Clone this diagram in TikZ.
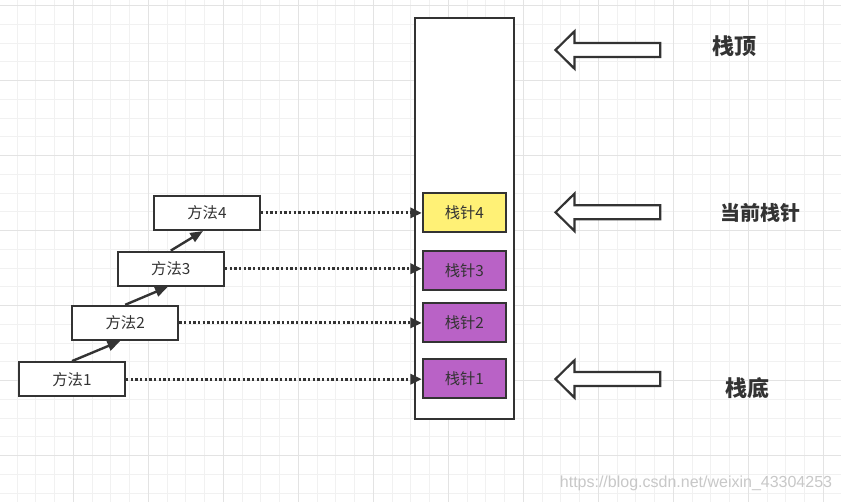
\documentclass[tikz,border=0pt]{standalone}
\usepackage{fontspec}
\setmainfont{Liberation Sans}
\newfontfamily\cjk{Noto Sans CJK SC}
\usetikzlibrary{arrows.meta,calc}
\definecolor{ink}{HTML}{333333}
\definecolor{gridminor}{HTML}{F1F1F1}
\definecolor{gridmajor}{HTML}{E3E3E3}
\definecolor{curfill}{HTML}{FFF176}
\definecolor{stkfill}{HTML}{B962C6}
\definecolor{wm}{HTML}{C8C8C8}
\begin{document}
\begin{tikzpicture}[x=0.75pt,y=-0.75pt,
  box/.style={draw=ink,line width=1.65pt,fill=white,inner sep=0pt,
    font=\cjk\fontsize{11.5pt}{13pt}\selectfont,text=ink},
  methodbox/.style={box,minimum width={106*0.75pt},minimum height={34*0.75pt}},
  framebox/.style={box,minimum width={99*0.75pt},minimum height={401*0.75pt}},
  slotbox/.style={box,minimum width={83*0.75pt},minimum height={39*0.75pt}},
  biglabel/.style={inner sep=0pt,font=\cjk\bfseries\fontsize{16.5pt}{19pt}\selectfont,text=ink},
  curlabel/.style={biglabel,font=\cjk\bfseries\fontsize{15pt}{18pt}\selectfont},
  callarrow/.style={draw=ink,line width=1.8pt,-{Triangle[length=9.5pt,width=7.5pt]}},
  ptrarrow/.style={draw=ink,line width=2.2pt,dash pattern=on 1.7pt off 1.8pt,
    -{Triangle[length=8.5pt,width=7.5pt]}},
  blockarrow/.style={draw=ink,line width=1.65pt,fill=white,line join=miter}
]
\useasboundingbox (0,0) rectangle (841,502);
\fill[white] (0,0) rectangle (841,502);
% grid
\foreach \i in {0,...,44} {
  \draw[gridminor,line width=0.75pt] ({17.05+18.75*\i},0) -- ({17.05+18.75*\i},502);
}
\foreach \j in {0,...,26} {
  \draw[gridminor,line width=0.75pt] (0,{5.7+18.75*\j}) -- (841,{5.7+18.75*\j});
}
\foreach \i in {0,...,11} {
  \draw[gridmajor,line width=0.75pt] ({-1.7+75*\i},0) -- ({-1.7+75*\i},502);
}
\foreach \j in {0,...,6} {
  \draw[gridmajor,line width=0.75pt] (0,{5.7+75*\j}) -- (841,{5.7+75*\j});
}
% stack frame
\node[framebox] (stack) at (464.6,218.5) {};
% slots
\node[slotbox,fill=curfill] (s4) at (464.4,212.5) {栈针4};
\node[slotbox,fill=stkfill] (s3) at (464.4,270.3) {栈针3};
\node[slotbox,fill=stkfill] (s2) at (464.4,322.5) {栈针2};
\node[slotbox,fill=stkfill] (s1) at (464.4,378.7) {栈针1};
% methods
\node[methodbox] (m4) at (207,212.9) {方法4};
\node[methodbox] (m3) at (170.8,268.7) {方法3};
\node[methodbox] (m2) at (125.2,322.9) {方法2};
\node[methodbox] (m1) at (72,379.2) {方法1};
% call arrows
\draw[callarrow] (m1.north) -- ($(m2.south)+(-5,0)$);
\draw[callarrow] (m2.north) -- ($(m3.south)+(-3,0)$);
\draw[callarrow] (m3.north) -- ($(m4.south)+(-4,0)$);
% pointer arrows
\draw[ptrarrow] (m4.east) -- (m4.east -| s4.west);
\draw[ptrarrow] (m3.east) -- (m3.east -| s3.west);
\draw[ptrarrow] (m2.east) -- (m2.east -| s2.west);
\draw[ptrarrow] (m1.east) -- (m1.east -| s1.west);
% block arrows and labels
\foreach \cy/\nm in {50/top,212.3/cur,379/bot} {
  \coordinate (tip\nm) at (555.5,\cy);
  \draw[blockarrow] (tip\nm) -- ++(19,-18.7) -- ++(0,11.7) -- ++(85.7,0)
    -- ++(0,14) -- ++(-85.7,0) -- ++(0,11.7) -- cycle;
}
\node[biglabel] (ltop) at (734,46) {栈顶};
\node[curlabel] (lcur) at (760,213) {当前栈针};
\node[biglabel] (lbot) at (747,388) {栈底};
% watermark
\node[inner sep=0pt,text=wm,font=\fontsize{12pt}{14pt}\selectfont] (wmark) at (696,483) {https://blog.csdn.net/weixin\_43304253};
\end{tikzpicture}
\end{document}
